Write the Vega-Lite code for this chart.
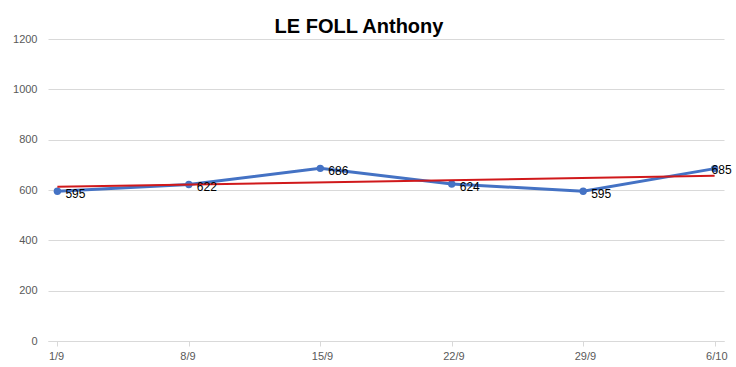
{
  "$schema": "https://vega.github.io/schema/vega-lite/v6.json",
  "autosize": "none",
  "width": 676,
  "height": 302,
  "padding": {"left": 48, "top": 39, "right": 12, "bottom": 26},
  "background": "white",
  "title": {"text": "LE FOLL Anthony", "font": "Liberation Sans", "fontSize": 20, "fontWeight": "bold", "color": "#000000", "anchor": "middle", "dx": -27, "offset": 0, "dy": 4},
  "data": {"values": [
    {"date": "2023-09-01", "value": 595},
    {"date": "2023-09-08", "value": 622},
    {"date": "2023-09-15", "value": 686},
    {"date": "2023-09-22", "value": 624},
    {"date": "2023-09-29", "value": 595},
    {"date": "2023-10-06", "value": 685}
  ]},
  "config": {
    "view": {"stroke": null},
    "axis": {"labelFont": "Liberation Sans", "labelColor": "#595959", "labelFontSize": 11, "gridColor": "#d9d9d9", "title": null}
  },
  "encoding": {
    "x": {"field": "date", "type": "temporal",
      "scale": {"type": "utc", "domain": [1693483200000, 1696593600000]},
      "axis": {"values": [1693526400000, 1694131200000, 1694736000000, 1695340800000, 1695945600000, 1696550400000], "labelExpr": "utcFormat(datum.value, '%-d/%-m')", "grid": false, "domainColor": "#d9d9d9", "tickColor": "#d9d9d9", "tickSize": 5, "labelPadding": 4, "labelAlign": "left", "labelOffset": -9, "labelBound": false, "labelOverlap": false}},
    "y": {"field": "value", "type": "quantitative",
      "scale": {"domain": [0, 1200]},
      "axis": {"values": [0, 200, 400, 600, 800, 1000, 1200], "format": "d", "domain": false, "ticks": false, "labelPadding": 11}}
  },
  "layer": [
    {"mark": {"type": "line", "color": "#4472C4", "strokeWidth": 3}},
    {"mark": {"type": "point", "filled": true, "color": "#4472C4", "size": 55, "opacity": 1}},
    {"mark": {"type": "line", "color": "#D0191B", "strokeWidth": 2},
     "transform": [{"regression": "value", "on": "date"}]},
    {"mark": {"type": "text", "align": "left", "baseline": "middle", "dx": 8, "dy": 3, "font": "Liberation Sans", "fontSize": 12, "color": "#000000"},
     "transform": [{"filter": "datum.value != 685"}],
     "encoding": {"text": {"field": "value", "type": "quantitative"}}},
    {"mark": {"type": "text", "align": "left", "baseline": "middle", "dx": -3, "dy": 1, "font": "Liberation Sans", "fontSize": 12, "color": "#000000"},
     "transform": [{"filter": "datum.value == 685"}],
     "encoding": {"text": {"field": "value", "type": "quantitative"}}}
  ]
}
